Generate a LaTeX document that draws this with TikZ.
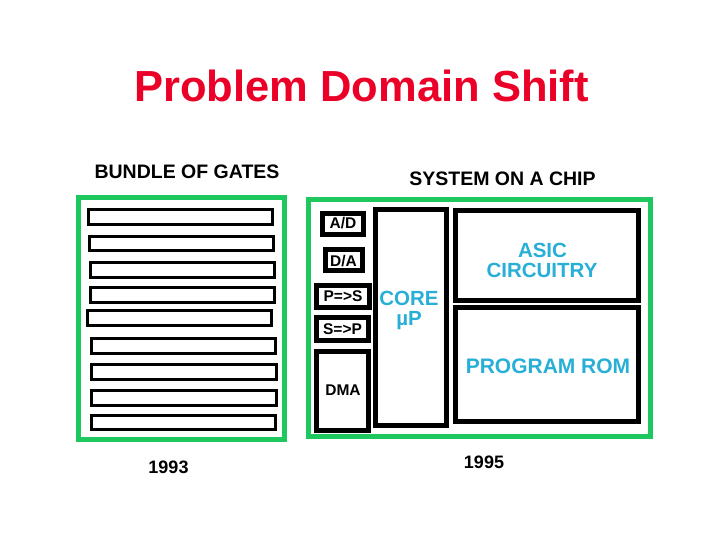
\documentclass[tikz,border=0pt]{standalone}
\usepackage{fontspec}
\setmainfont{Liberation Sans}
\definecolor{chipgreen}{RGB}{30,200,95}
\definecolor{titlered}{RGB}{235,0,40}
\definecolor{labelblue}{RGB}{40,175,215}
\tikzset{
  frame/.style={draw=chipgreen, line width=5pt, inner sep=0pt, outer sep=0pt},
  gatebar/.style={draw=black, line width=3pt, inner sep=0pt, outer sep=0pt, minimum height=15pt},
  blk/.style={draw=black, line width=5pt, inner sep=0pt, outer sep=0pt},
  txt/.style={anchor=base, inner sep=0pt, font=\bfseries},
  small/.style={txt, font=\fontsize{15.5}{18}\bfseries\selectfont},
  big/.style={txt, text=labelblue, font=\fontsize{20.5}{24}\bfseries\selectfont},
  head/.style={txt, font=\fontsize{19.5}{23}\bfseries\selectfont},
  year/.style={txt, font=\fontsize{18}{22}\bfseries\selectfont}
}
\begin{document}
\begin{tikzpicture}[x=1pt,y=-1pt]
\useasboundingbox[fill=white] (0,0) rectangle (720,540);
% title
\node[txt, text=titlered, font=\fontsize{43.5}{50}\bfseries\selectfont] (title) at (361.5,101.5) {Problem Domain Shift};
% headings
\node[head] (bundle) at (187,179) {BUNDLE OF GATES};
\node[head] (soc) at (502.5,186) {SYSTEM ON A CHIP};
% frames
\node[frame, minimum width=206pt, minimum height=242pt] (left) at (181.5,318.5) {};
\node[frame, minimum width=342pt, minimum height=236.5pt] (right) at (479.5,317.75) {};
% gates
\node[gatebar, minimum width=184pt] (g1) at (180.5,217) {};
\node[gatebar, minimum width=184pt, minimum height=14pt] (g2) at (181.5,243.5) {};
\node[gatebar, minimum width=184pt] (g3) at (182.5,270) {};
\node[gatebar, minimum width=184pt] (g4) at (182.5,295) {};
\node[gatebar, minimum width=184pt] (g5) at (179.5,318) {};
\node[gatebar, minimum width=184pt] (g6) at (183.5,346) {};
\node[gatebar, minimum width=185pt] (g7) at (184,372) {};
\node[gatebar, minimum width=185pt] (g8) at (184,398) {};
\node[gatebar, minimum width=184pt, minimum height=14pt] (g9) at (183.5,422.5) {};
% chip blocks
\node[blk, minimum width=41pt, minimum height=21pt] (ad) at (343,224) {};
\node[blk, minimum width=37pt, minimum height=21pt] (da) at (344,260) {};
\node[blk, minimum width=53pt, minimum height=22pt] (ps) at (343,296.5) {};
\node[blk, minimum width=52pt, minimum height=23pt] (sp) at (342.5,329) {};
\node[blk, minimum width=52pt, minimum height=79pt] (dma) at (342.5,391) {};
\node[blk, minimum width=71pt, minimum height=216pt] (core) at (411,317.5) {};
\node[blk, minimum width=183pt, minimum height=90pt] (asic) at (547,255.5) {};
\node[blk, minimum width=183pt, minimum height=114pt] (rom) at (547,364.5) {};
% labels
\node[small] (tad) at (343,228.5) {A/D};
\node[small] (tda) at (343.5,266) {D/A};
\node[small] (tps) at (343,301.5) {P=>S};
\node[small] (tsp) at (342.5,334) {S=>P};
\node[small] (tdma) at (343,395) {DMA};
\node[big] (tcore) at (409,305) {CORE};
\node[big] (tmu) at (409,325) {µP};
\node[big] (tasic) at (542.5,257) {ASIC};
\node[big] (tcirc) at (542,277) {CIRCUITRY};
\node[big, font=\fontsize{21}{24}\bfseries\selectfont] (trom) at (548,373) {PROGRAM ROM};
% years
\node[year] (y93) at (168.5,473) {1993};
\node[year] (y95) at (484,468) {1995};
\end{tikzpicture}
\end{document}
